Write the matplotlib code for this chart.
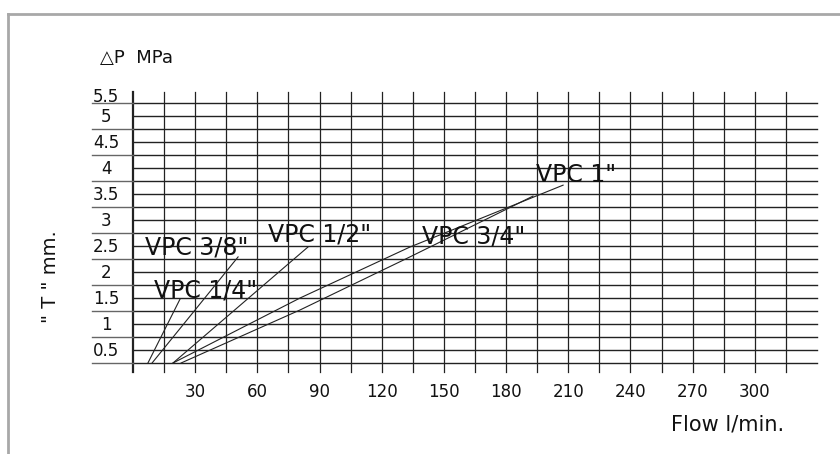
import matplotlib
matplotlib.use("Agg")
import matplotlib.pyplot as plt
from matplotlib.lines import Line2D
import numpy as np

# flow (l/min) vs pressure drop (MPa)
flow_14 = [7.2, 22.7]
dp_14 = [0.25, 1.48]
flow_38 = [9.2, 50.7]
dp_38 = [0.25, 2.29]
flow_12 = [19.3, 84.4]
dp_12 = [0.25, 2.48]
flow_34 = [23.2, 80.6, 133.6, 193.0]
dp_34 = [0.25, 1.27, 2.29, 3.46]
flow_1 = [19.3, 80.6, 133.6, 207.5]
dp_1 = [0.25, 1.50, 2.48, 3.67]

x_ticks = [30, 60, 90, 120, 150, 180, 210, 240, 270, 300]
y_ticks = [0.5, 1, 1.5, 2, 2.5, 3, 3.5, 4, 4.5, 5, 5.38]
y_labels = ['0.5', '1', '1.5', '2', '2.5', '3', '3.5', '4', '4.5', '5', '5.5']

ink = '#222222'
txt = '#111111'

fig = plt.figure(figsize=(8.4, 4.54), dpi=100)
ax = fig.add_axes([133/840, 1 - 363/454, 684/840, 260/454])
ax.set_xlim(0, 330)
ax.set_ylim(0.25, 5.25)
ax.axis('off')

# grid: verticals every 15, running a bit past top and bottom
for xv in np.arange(0, 316, 15):
    lw = 1.6 if xv == 0 else 0.9
    ax.plot([xv, xv], [0.08, 5.46], color=ink, lw=lw, clip_on=False)

# horizontals every 0.25, odd quarters also run under the labels
for k, yv in enumerate(np.arange(0.25, 5.26, 0.25)):
    ax.plot([0, 330], [yv, yv], color=ink, lw=1.0, clip_on=False)
    if k % 2 == 0:
        ax.plot([-19.8, 0], [yv, yv], color='#666666', lw=1.0, clip_on=False)

# the curves
for fx, fy in [(flow_14, dp_14), (flow_38, dp_38), (flow_12, dp_12),
               (flow_34, dp_34), (flow_1, dp_1)]:
    ax.plot(fx, fy, color=ink, lw=0.8)

lab = dict(fontsize=17, color=txt, ha='center', va='baseline')
ax.text(30.9, 2.33, 'VPC 3/8"', **lab)
ax.text(35.2, 1.50, 'VPC 1/4"', **lab)
ax.text(90.2, 2.58, 'VPC 1/2"', **lab)
ax.text(164.5, 2.54, 'VPC 3/4"', **lab)
ax.text(213.7, 3.73, 'VPC 1"', **lab)

# tick labels
for xv in x_ticks:
    ax.text(xv, -0.40, str(xv), fontsize=12, color=txt,
            ha='center', va='baseline')
for yv, s in zip(y_ticks, y_labels):
    ax.text(-13.0, yv - 0.115, s, fontsize=12, color=txt,
            ha='center', va='baseline')

fig.text(100/840, 1 - 63/454, '\u25b3P  MPa', fontsize=13, color=txt,
         ha='left', va='baseline')
fig.text(671/840, 1 - 431/454, 'Flow l/min.', fontsize=15, color=txt,
         ha='left', va='baseline')
fig.text(50/840, 1 - 277/454, '" T " mm.', fontsize=14, color=txt,
         ha='center', va='center', rotation=90)

# grey frame (left and top only)
fig.add_artist(Line2D([7.5/840, 7.5/840], [0, 1 - 14/454], color='#a8a8a8', lw=2))
fig.add_artist(Line2D([7.5/840, 1], [1 - 14/454, 1 - 14/454], color='#a8a8a8', lw=2))

fig.savefig('out.png', dpi=100)
